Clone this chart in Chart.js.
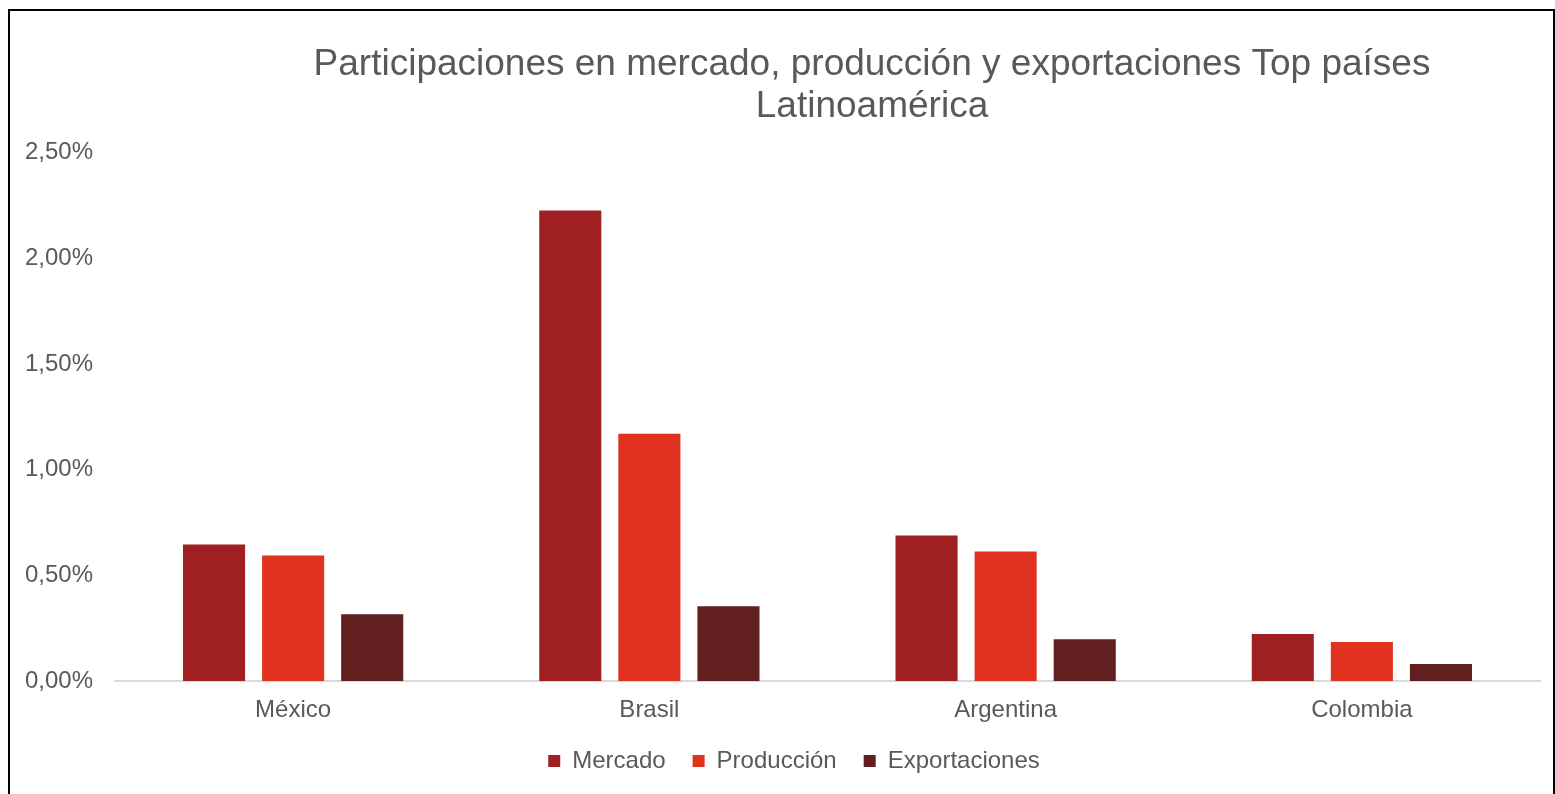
<!DOCTYPE html>
<html>
<head>
<meta charset="utf-8">
<script src="https://cdn.jsdelivr.net/npm/chart.js@4"></script>
<style>
  html, body { margin: 0; padding: 0; background: #fff; overflow: hidden; }
  #frame { position: absolute; left: 8px; top: 9px; width: 1543px; height: 820px; border: 2px solid #000; }
  #wrap { position: absolute; left: 0; top: 0; width: 1555px; height: 794px; }
</style>
</head>
<body>
<div id="frame"></div>
<div id="wrap"><canvas id="participacionChart"></canvas></div>
<script>
const paises = ['México', 'Brasil', 'Argentina', 'Colombia'];
const mercado = [0.646, 2.226, 0.689, 0.222];
const produccion = [0.594, 1.170, 0.613, 0.184];
const exportaciones = [0.316, 0.354, 0.198, 0.080];

const gris = '#595959';
const fuente = "'Liberation Sans', Arial, sans-serif";

// title and legend in the original are not centred on the canvas
const desplazar = {
    id: 'desplazar',
    afterLayout(chart) {
        chart.titleBlock.left += 102;
        chart.titleBlock.right += 102;
        chart.legend.left += 24;
        chart.legend.right += 24;
        chart.legend.top -= 9;
        chart.legend.bottom -= 9;
    }
};

const ctx = document.getElementById('participacionChart').getContext('2d');
const participacionChart = new Chart(ctx, {
    type: 'bar',
    data: {
        labels: paises,
        datasets: [{
            label: 'Mercado',
            data: mercado,
            backgroundColor: '#A01F20'
        }, {
            label: 'Producción',
            data: produccion,
            backgroundColor: '#E0321F'
        }, {
            label: 'Exportaciones',
            data: exportaciones,
            backgroundColor: '#611F1F'
        }]
    },
    plugins: [desplazar],
    options: {
        responsive: true,
        maintainAspectRatio: false,
        animation: false,
        datasets: {
            bar: { categoryPercentage: 0.666, barPercentage: 0.785 }
        },
        layout: { padding: { left: 0, right: 15, top: 44, bottom: 2 } },
        plugins: {
            title: {
                display: true,
                text: ['Participaciones en mercado, producción y exportaciones Top países', 'Latinoamérica'],
                color: gris,
                font: { family: fuente, size: 37, weight: 'normal', lineHeight: 1.13 },
                padding: { top: 0, bottom: 25 }
            },
            legend: {
                position: 'bottom',
                labels: {
                    color: gris,
                    font: { family: fuente, size: 24, lineHeight: 1.0 },
                    boxWidth: 12,
                    boxHeight: 12,
                    padding: 27
                }
            },
            tooltip: { enabled: false }
        },
        scales: {
            x: {
                grid: { display: false },
                border: { display: true, color: '#D9D9D9', width: 2 },
                ticks: { color: gris, font: { family: fuente, size: 24, lineHeight: 1.0 }, padding: 9 }
            },
            y: {
                min: 0,
                max: 2.5,
                grid: { display: false },
                border: { display: false },
                afterFit(scale) { scale.width = 115; },
                ticks: {
                    stepSize: 0.5,
                    color: gris,
                    font: { family: fuente, size: 24 },
                    padding: 14,
                    callback: v => v.toFixed(2).replace('.', ',') + '%'
                }
            }
        }
    }
});
</script>
</body>
</html>
